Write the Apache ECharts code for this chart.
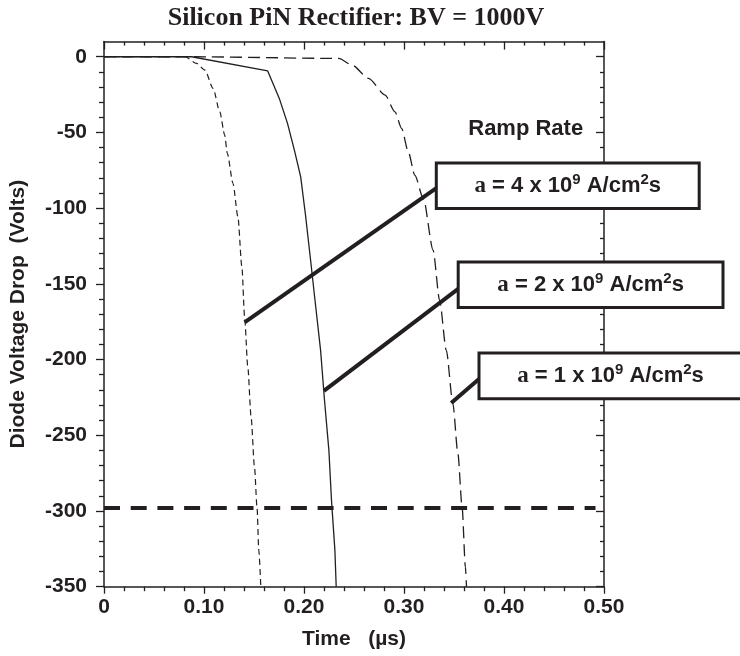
<!DOCTYPE html>
<html><head><meta charset="utf-8">
<script src="https://cdn.jsdelivr.net/npm/echarts@6/dist/echarts.min.js"></script>
<style>html,body{margin:0;padding:0;background:#fff}#c{width:740px;height:656px}</style>
</head><body><div id="c"></div>
<script>
// ---- data ----
const xMajor = [0, 0.1, 0.2, 0.3, 0.4, 0.5];
const xTickLabels = ['0', '0.10', '0.20', '0.30', '0.40', '0.50'];
const yMajor = [-350, -300, -250, -200, -150, -100, -50, 0];
const yMinor = [-340,-330,-320,-310,-290,-280,-270,-260,-240,-230,-220,-210,-190,-180,-170,-160,-140,-130,-120,-110,-90,-80,-70,-60,-40,-30,-20,-10];

// a = 4 x 10^9 A/cm2s  (short dashes)
const curveA = [[0,0],[0.0811,0],[0.0926,-4.4],[0.1009,-8.8],[0.1091,-20.9],[0.1158,-36.4],[0.1207,-51.7],[0.1233,-63.8],[0.1290,-83.7],[0.1339,-105.7],[0.1379,-138.8],[0.1406,-171.8],[0.1438,-204.9],[0.1471,-237.9],[0.1505,-271],[0.1531,-298.5],[0.1548,-326],[0.1568,-350]];
// a = 2 x 10^9 A/cm2s  (solid)
const curveB = [[0,0],[0.0876,0],[0.1637,-9.4],[0.1753,-27.5],[0.1835,-44],[0.1905,-62],[0.1967,-79.3],[0.2017,-105.7],[0.2066,-134.4],[0.2110,-160.8],[0.2166,-193.9],[0.2205,-226.9],[0.2249,-260],[0.2275,-293],[0.2309,-326],[0.2322,-350]];
// a = 1 x 10^9 A/cm2s  (long dashes)
const curveC = [[0,0],[0.0876,0],[0.2348,-1.1],[0.248,-5.5],[0.2646,-14.3],[0.2811,-25.3],[0.291,-36.4],[0.2976,-47.3],[0.3043,-62.8],[0.3108,-78.2],[0.3195,-94],[0.3291,-127.8],[0.3356,-160.8],[0.3423,-193.9],[0.3489,-229.1],[0.3539,-262.1],[0.3581,-297.4],[0.3614,-337],[0.3625,-350]];
// -300 V reference
const refLine = [[0,-298],[0.4915,-298]];
// leader lines from the labels to the curves
const leader4 = [[0.1406,-175.5],[0.3323,-86.8]];
const leader2 = [[0.2199,-220.7],[0.3545,-153.1]];
const leader1 = [[0.3472,-228.7],[0.3753,-212.7]];
const rampValues = ['4', '2', '1'];
// label boxes in data coordinates: [left, right, top, bottom]
const boxLeft = [0.3323, 0.3542, 0.375];
const boxRight = [0.5952, 0.619, 0.638];
const boxTop = [-70.1, -135.5, -195.6];
const boxBottom = [-100.2, -165.6, -225.8];
const rampTitlePos = [0.4217, -47.5];

// ---- chart ----
const INK = '#231f20';
const SANS = '"Liberation Sans", Arial, Helvetica, sans-serif';
const SERIF = '"Liberation Serif", "Times New Roman", serif';
const chart = echarts.init(document.getElementById('c'), null, {renderer: 'canvas'});

const lblStyle = {color: INK, fontFamily: SANS, fontWeight: 'bold', fontSize: 21};

function yAx(position, ticks, len, inside, showLine, showLabel) {
  return {
    type: 'value', position: position, min: -350, max: 10,
    axisLine: {show: showLine, onZero: false, lineStyle: {color: INK, width: 1.5}},
    axisTick: {show: true, inside: inside, length: len, customValues: ticks, lineStyle: {color: INK, width: 1.3}},
    axisLabel: showLabel ? Object.assign({show: true, margin: 17, customValues: yMajor, formatter: v => String(v)}, lblStyle) : {show: false},
    splitLine: {show: false}
  };
}

const option = {
  animation: false,
  backgroundColor: '#fff',
  title: {
    text: 'Silicon PiN Rectifier: BV = 1000V',
    left: 351, top: 0, textAlign: 'center',
    textStyle: {color: INK, fontFamily: SERIF, fontWeight: 'bold', fontSize: 26}
  },
  grid: {left: 100, right: 136, top: 41.6, bottom: 69.3, containLabel: false},
  xAxis: [
    {
      type: 'value', position: 'bottom', min: 0, max: 0.5, interval: 0.1,
      name: 'Time   (\u00b5s)', nameLocation: 'middle', nameGap: 42,
      nameTextStyle: lblStyle,
      axisLine: {show: true, onZero: false, lineStyle: {color: INK, width: 1.5}},
      axisTick: {show: true, inside: false, length: 7, lineStyle: {color: INK, width: 1.3}},
      minorTick: {show: true, splitNumber: 5, length: 4.5, lineStyle: {color: INK, width: 1.3}},
      axisLabel: Object.assign({margin: 10, formatter: v => xTickLabels[xMajor.findIndex(m => Math.abs(m - v) < 1e-9)] || ''}, lblStyle),
      splitLine: {show: false}
    },
    {
      type: 'value', position: 'top', min: 0, max: 0.5, interval: 0.1,
      axisLine: {show: true, onZero: false, lineStyle: {color: INK, width: 1.5}},
      axisTick: {show: true, inside: true, length: 8, lineStyle: {color: INK, width: 1.3}},
      minorTick: {show: true, splitNumber: 5, length: 4, lineStyle: {color: INK, width: 1.3}},
      axisLabel: {show: false}, splitLine: {show: false}
    }
  ],
  yAxis: [
    Object.assign(yAx('left', yMajor, 8, false, true, true), {
      name: 'Diode Voltage Drop  (Volts)', nameLocation: 'middle', nameRotate: 90, nameGap: 75,
      nameTextStyle: lblStyle
    }),
    yAx('left', yMinor, 5, false, false, false),
    yAx('right', yMajor, 8, true, true, false),
    yAx('right', yMinor, 4, true, false, false)
  ],
  series: [
    {type: 'line', name: 'a=4e9', data: curveA, showSymbol: false, symbol: 'none', z: 3,
     smooth: 0.25, smoothMonotone: 'x',
     lineStyle: {color: INK, width: 1.2, type: [6, 4]}},
    {type: 'line', name: 'a=2e9', data: curveB, showSymbol: false, symbol: 'none', z: 3,
     lineStyle: {color: INK, width: 1.3, type: 'solid'}},
    {type: 'line', name: 'a=1e9', data: curveC, showSymbol: false, symbol: 'none', z: 3,
     smooth: 0.25, smoothMonotone: 'x',
     lineStyle: {color: INK, width: 1.3, type: [12, 6]}},
    {type: 'line', name: 'ref', data: refLine, showSymbol: false, symbol: 'none', z: 4,
     lineStyle: {color: INK, width: 4, type: [16, 10.7], cap: 'butt'}},
    {type: 'line', name: 'leader4', data: leader4, showSymbol: false, symbol: 'none', z: 5, clip: false,
     lineStyle: {color: INK, width: 4, cap: 'butt'}},
    {type: 'line', name: 'leader2', data: leader2, showSymbol: false, symbol: 'none', z: 5, clip: false,
     lineStyle: {color: INK, width: 4, cap: 'butt'}},
    {type: 'line', name: 'leader1', data: leader1, showSymbol: false, symbol: 'none', z: 5, clip: false,
     lineStyle: {color: INK, width: 4, cap: 'butt'}}
  ]
};
chart.setOption(option);

function px(x) { return chart.convertToPixel({xAxisIndex: 0}, x); }
function py(y) { return chart.convertToPixel({yAxisIndex: 0}, y); }

const graphics = [];
const rich = {
  a: {fontFamily: SERIF, fontWeight: 'bold', fontSize: 23, fill: INK, lineHeight: 26},
  t: {fontFamily: SANS, fontWeight: 'bold', fontSize: 22, fill: INK, lineHeight: 26},
  s: {fontFamily: SANS, fontWeight: 'bold', fontSize: 15, fill: INK, lineHeight: 15, verticalAlign: 'top'}
};
for (let i = 0; i < rampValues.length; i++) {
  const l = px(boxLeft[i]), r = px(boxRight[i]), t = py(boxTop[i]), b = py(boxBottom[i]);
  graphics.push({
    type: 'rect', z: 100,
    shape: {x: l, y: t, width: r - l, height: b - t},
    style: {fill: '#fff', stroke: INK, lineWidth: 3}
  });
  graphics.push({
    type: 'text', z: 101,
    x: (l + r) / 2, y: (t + b) / 2,
    style: {
      text: '{a|a}{t| = ' + rampValues[i] + ' x 10}{s|9}{t| A/cm}{s|2}{t|s}',
      rich: rich, align: 'center', verticalAlign: 'middle'
    }
  });
}
graphics.push({
  type: 'text', z: 101,
  x: px(rampTitlePos[0]), y: py(rampTitlePos[1]),
  style: {text: 'Ramp Rate', font: 'bold 22px ' + SANS, fill: INK, align: 'center', verticalAlign: 'middle'}
});
chart.setOption({graphic: graphics});
</script>
</body></html>
